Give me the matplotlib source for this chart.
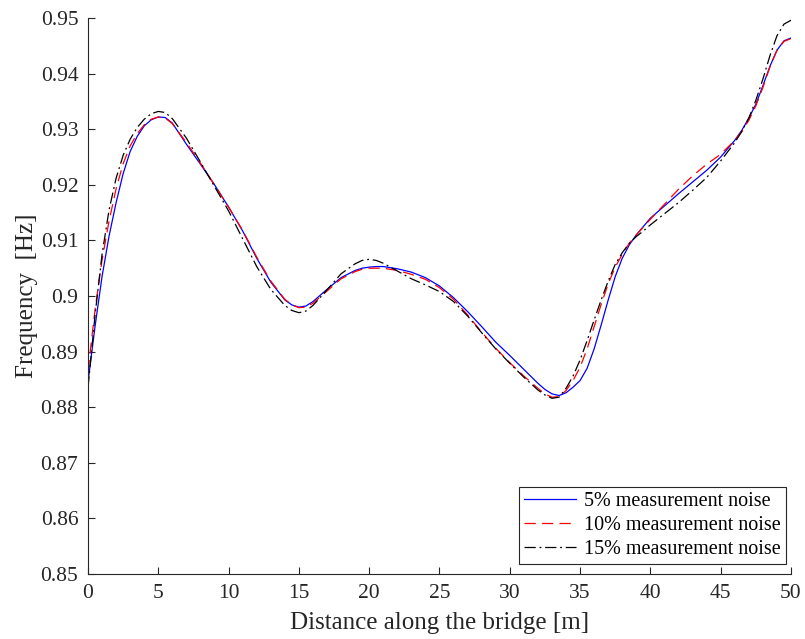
import numpy as np
import matplotlib
matplotlib.use("Agg")
import matplotlib.pyplot as plt
from matplotlib.ticker import FormatStrFormatter, MultipleLocator

plt.rcParams['font.family'] = ['Liberation Serif', 'DejaVu Serif']

# distance along the bridge [m]
dist = [0, 0.5, 1, 1.5, 2, 2.5, 3, 3.5, 4, 4.5, 5, 5.5, 6,
        7, 8, 9, 10, 11, 12, 13, 14,
        14.5, 15, 15.5, 16,
        17, 18, 19,
        19.5, 20, 20.5, 21,
        22, 23, 24, 25, 26, 27, 28, 29, 30, 31, 32,
        32.5, 33, 33.5, 34, 34.5, 35, 35.5, 36, 36.5, 37, 37.5, 38, 38.5, 39, 39.5, 40,
        41, 42, 43, 44, 45, 46,
        46.5, 47, 47.5, 48, 48.5, 49, 49.5, 50]

# identified frequency [Hz] for each noise level
freq_5 = [0.8845, 0.8945, 0.9035, 0.9108, 0.9168, 0.9220, 0.9260, 0.9287, 0.9306, 0.9317, 0.9322, 0.9321, 0.9311,
          0.9273, 0.9237, 0.9200, 0.9160, 0.9117, 0.9068, 0.9025, 0.8993,
          0.8984, 0.8980, 0.8982, 0.8990,
          0.9012, 0.9033, 0.9046,
          0.9050, 0.9052, 0.9053, 0.9053,
          0.9049, 0.9043, 0.9033, 0.9018, 0.8997, 0.8972, 0.8945, 0.8917, 0.8893, 0.8868, 0.8843,
          0.8832, 0.8824, 0.8821, 0.8826, 0.8836, 0.8848, 0.8870, 0.8905, 0.8948, 0.8993, 0.9035, 0.9068, 0.9092, 0.9110, 0.9125, 0.9140,
          0.9162, 0.9184, 0.9205, 0.9226, 0.9250, 0.9280,
          0.9298, 0.9320, 0.9345, 0.9378, 0.9413, 0.9442, 0.9459, 0.9464]
freq_10 = [0.8865, 0.8975, 0.9065, 0.9135, 0.9193, 0.9238, 0.9270, 0.9292, 0.9308, 0.9318, 0.9322, 0.9320, 0.9310,
           0.9276, 0.9239, 0.9200, 0.9160, 0.9118, 0.9070, 0.9027, 0.8994,
           0.8984, 0.8979, 0.8980, 0.8987,
           0.9009, 0.9031, 0.9044,
           0.9048, 0.9050, 0.9050, 0.9050,
           0.9046, 0.9039, 0.9030, 0.9015, 0.8994, 0.8966, 0.8935, 0.8906, 0.8880, 0.8856, 0.8834,
           0.8824, 0.8818, 0.8819, 0.8830, 0.8848, 0.8872, 0.8905, 0.8945, 0.8985, 0.9022, 0.9052, 0.9075, 0.9095, 0.9110, 0.9124, 0.9138,
           0.9165, 0.9192, 0.9216, 0.9237, 0.9255, 0.9280,
           0.9296, 0.9316, 0.9342, 0.9375, 0.9412, 0.9442, 0.9458, 0.9463]
freq_15 = [0.8835, 0.8965, 0.9075, 0.9155, 0.9212, 0.9253, 0.9282, 0.9303, 0.9318, 0.9328, 0.9332, 0.9330, 0.9319,
           0.9284, 0.9241, 0.9197, 0.9153, 0.9103, 0.9053, 0.9012, 0.8983,
           0.8974, 0.8970, 0.8973, 0.8983,
           0.9011, 0.9040, 0.9058,
           0.9064, 0.9066, 0.9064, 0.9059,
           0.9045, 0.9031, 0.9020, 0.9008, 0.8990, 0.8964, 0.8934, 0.8905, 0.8879, 0.8854, 0.8831,
           0.8822, 0.8816, 0.8818, 0.8834, 0.8856, 0.8885, 0.8920, 0.8957, 0.8993, 0.9027, 0.9057, 0.9078, 0.9095, 0.9107, 0.9117, 0.9128,
           0.9148, 0.9168, 0.9190, 0.9213, 0.9243, 0.9276,
           0.9296, 0.9320, 0.9352, 0.9390, 0.9432, 0.9468, 0.9489, 0.9496]

labels = ['5% measurement noise', '10% measurement noise', '15% measurement noise']

fig = plt.figure(figsize=(8.05, 6.39), dpi=100)
ax = fig.add_axes([0.1093, 0.1017, 0.8733, 0.8701])

ax.plot(dist, freq_5, color='blue', lw=0.9, label=labels[0])
ax.plot(dist, freq_10, color='red', lw=0.9, ls=(0, (9, 5)), label=labels[1])
ax.plot(dist, freq_15, color='black', lw=0.9, ls=(0, (9, 3, 1.5, 3)), label=labels[2])

ax.set_xlim(0, 50)
ax.set_ylim(0.85, 0.95)
ax.xaxis.set_major_locator(MultipleLocator(5))
ax.yaxis.set_major_locator(MultipleLocator(0.01))
ax.yaxis.set_major_formatter(FormatStrFormatter('%g'))

for side in ['top', 'right']:
    ax.spines[side].set_visible(False)
for side in ['left', 'bottom']:
    ax.spines[side].set_color('#262626')
    ax.spines[side].set_linewidth(0.8)
ax.tick_params(direction='in', length=5, width=0.8, colors='#262626',
               labelcolor='#262626', labelsize=15.5, pad=7)

ax.set_xlabel('Distance along the bridge [m]', fontsize=18, color='#262626', labelpad=7)
ax.set_ylabel('Frequency  [Hz]', fontsize=18, color='#262626', labelpad=2)

leg = ax.legend(loc='lower right', bbox_to_anchor=(0.9764, 0.1174), bbox_transform=fig.transFigure,
                fontsize=14.5, frameon=True, fancybox=False, edgecolor='#262626', framealpha=1,
                handlelength=2.6, borderaxespad=0, labelspacing=0.25, borderpad=0.25,
                handletextpad=0.4)
leg.get_frame().set_linewidth(0.8)

fig.savefig('out.png', dpi=100)
